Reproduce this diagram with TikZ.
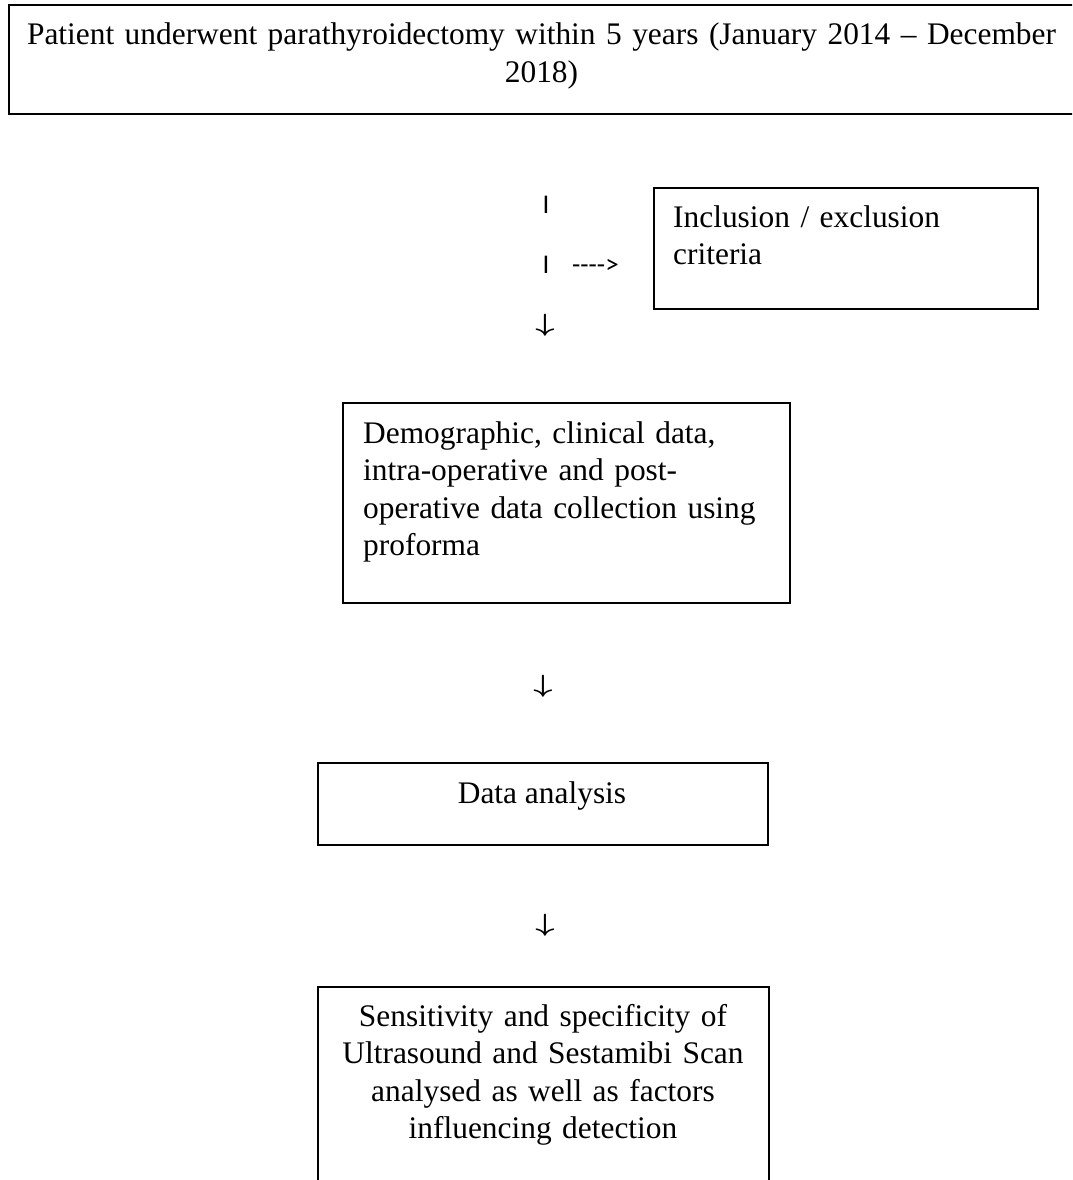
\documentclass[tikz,border=0pt]{standalone}
\usepackage{graphicx}
\usepackage{fontspec}
\setmainfont{Liberation Serif}
\newfontfamily\calfont{Carlito}
\newcommand{\thinarrow}{\scalebox{1.35}[1]{\boldmath$\downarrow$}}
\begin{document}
\begin{tikzpicture}[x=1pt,y=-1pt,
  boxed/.style={draw=black,line width=1.8pt,inner sep=0pt,anchor=north west},
  txt/.style={inner sep=0pt,font=\fontsize{31.4}{37.5}\selectfont},
  tickmark/.style={inner sep=0pt,font=\calfont\fontsize{27}{30}\selectfont},
  downarrow/.style={inner sep=0pt,font=\fontsize{28}{30}\selectfont}]
\useasboundingbox (0,0) rectangle (1072,1180);
\clip (0,0) rectangle (1072,1180);
\fill[white] (0,0) rectangle (1072,1180);
% boxes
\node[boxed,minimum width=1070pt,minimum height=109pt] (b1) at (8,4) {};
\node[boxed,minimum width=384pt,minimum height=121pt] (b2) at (653,187) {};
\node[boxed,minimum width=447pt,minimum height=200pt] (b3) at (342,402) {};
\node[boxed,minimum width=450pt,minimum height=82pt] (b4) at (317,762) {};
\node[boxed,minimum width=451pt,minimum height=220pt] (b5) at (317,986) {};
% texts
\node[txt,text width=1060pt,align=center,anchor=base] (t1) at (541.5,45)
  {Patient underwent parathyroidectomy within 5 years (January 2014 – December\\2018)};
\node[txt,text width=360pt,align=left,anchor=base west] (t2) at (673,227)
  {Inclusion / exclusion\\criteria};
\node[txt,text width=420pt,align=left,anchor=base west] (t3) at (363,443)
  {Demographic, clinical data,\\intra-operative and post-\\operative data collection using\\proforma};
\node[txt,anchor=base] (t4) at (542,803) {Data analysis};
\node[txt,text width=440pt,align=center,anchor=base] (t5) at (543,1026)
  {Sensitivity and specificity of\\Ultrasound and Sestamibi Scan\\analysed as well as factors\\influencing detection};
% connector marks
\node[tickmark,anchor=base] (m1) at (546,213) {I};
\node[tickmark,anchor=base] (m2) at (546,273) {I};
\node[tickmark,anchor=base west] (m3) at (572,273) {---{}->};
\node[downarrow] (a1) at (545,325) {\thinarrow};
\node[downarrow] (a2) at (543,686) {\thinarrow};
\node[downarrow] (a3) at (545,925) {\thinarrow};
\end{tikzpicture}
\end{document}
